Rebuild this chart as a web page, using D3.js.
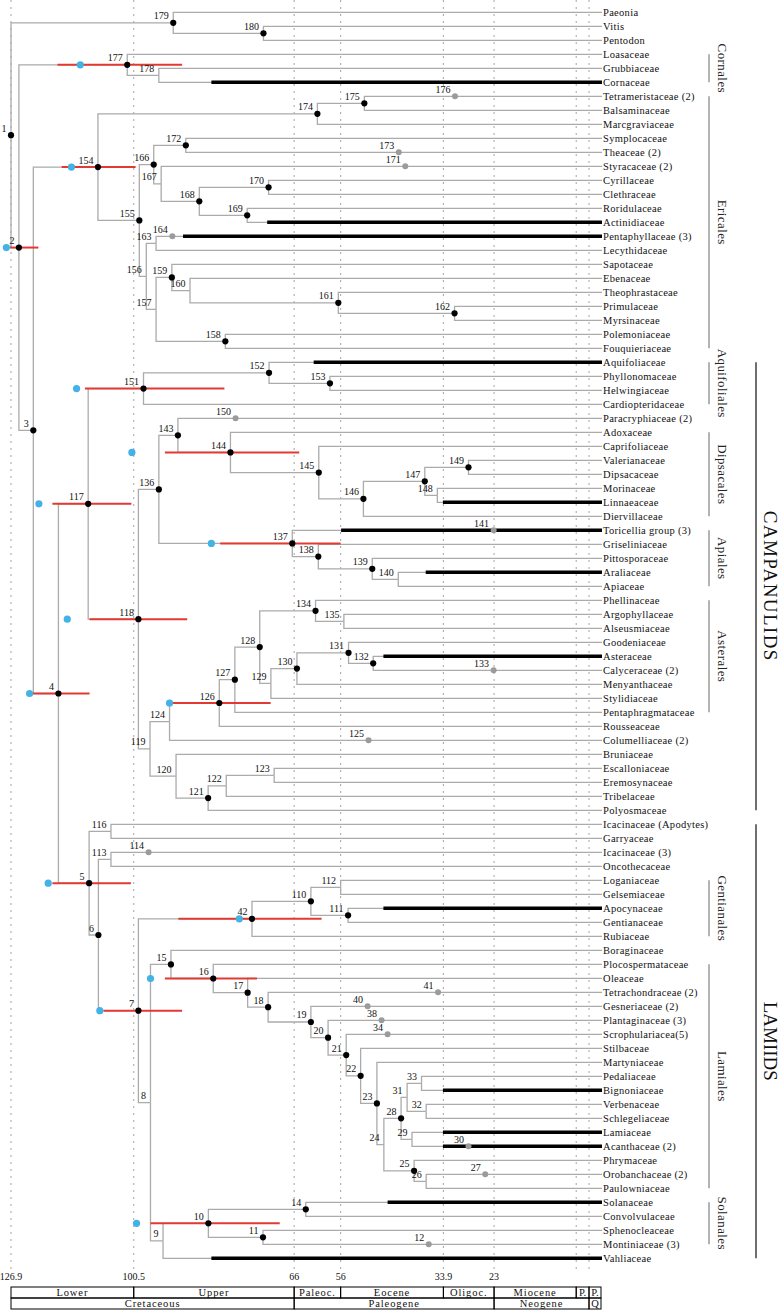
<!DOCTYPE html>
<html><head><meta charset="utf-8">
<script src="https://cdn.jsdelivr.net/npm/d3@7"></script>
<style>body{margin:0;background:#fff}</style>
</head><body>
<svg id="chart" width="782" height="1312"></svg>
<script>
// ---------------- DATA ----------------
const leaves = ["Paeonia","Vitis","Pentodon","Loasaceae","Grubbiaceae","Cornaceae","Tetrameristaceae (2)","Balsaminaceae","Marcgraviaceae","Symplocaceae","Theaceae (2)","Styracaceae (2)","Cyrillaceae","Clethraceae","Roridulaceae","Actinidiaceae","Pentaphyllaceae (3)","Lecythidaceae","Sapotaceae","Ebenaceae","Theophrastaceae","Primulaceae","Myrsinaceae","Polemoniaceae","Fouquieriaceae","Aquifoliaceae","Phyllonomaceae","Helwingiaceae","Cardiopteridaceae","Paracryphiaceae (2)","Adoxaceae","Caprifoliaceae","Valerianaceae","Dipsacaceae","Morinaceae","Linnaeaceae","Diervillaceae","Toricellia group (3)","Griseliniaceae","Pittosporaceae","Araliaceae","Apiaceae","Phellinaceae","Argophyllaceae","Alseusmiaceae","Goodeniaceae","Asteraceae","Calyceraceae (2)","Menyanthaceae","Stylidiaceae","Pentaphragmataceae","Rousseaceae","Columelliaceae (2)","Bruniaceae","Escalloniaceae","Eremosynaceae","Tribelaceae","Polyosmaceae","Icacinaceae (Apodytes)","Garryaceae","Icacinaceae (3)","Oncothecaceae","Loganiaceae","Gelsemiaceae","Apocynaceae","Gentianaceae","Rubiaceae","Boraginaceae","Plocospermataceae","Oleaceae","Tetrachondraceae (2)","Gesneriaceae (2)","Plantaginaceae (3)","Scrophulariacea(5)","Stilbaceae","Martyniaceae","Pedaliaceae","Bignoniaceae","Verbenaceae","Schlegeliaceae","Lamiaceae","Acanthaceae (2)","Phrymaceae","Orobanchaceae (2)","Paulowniaceae","Solanaceae","Convolvulaceae","Sphenocleaceae","Montiniaceae (3)","Vahliaceae"];

// internal nodes: [id, age in Ma, child 1, child 2] (children: node id or leaf name)
const innerNodes = [
 [1,126.9,179,2],[179,92.0,"Paeonia",180],[180,72.6,"Vitis","Pentodon"],
 [2,125.2,177,3],[177,101.9,"Loasaceae",178],[178,95.1,"Grubbiaceae","Cornaceae"],
 [3,122.1,154,4],[154,108.2,174,155],[174,61.0,175,"Marcgraviaceae"],
 [175,50.9,"Tetrameristaceae (2)","Balsaminaceae"],[155,99.3,166,156],[166,96.2,172,167],
 [172,89.3,"Symplocaceae","Theaceae (2)"],[167,94.6,"Styracaceae (2)",168],[168,86.4,170,169],
 [170,71.5,"Cyrillaceae","Clethraceae"],[169,76.1,"Roridulaceae","Actinidiaceae"],
 [156,97.8,163,157],[163,95.7,"Pentaphyllaceae (3)","Lecythidaceae"],[157,95.7,159,158],
 [159,92.3,"Sapotaceae",160],[160,88.4,"Ebenaceae",161],[161,56.5,"Theophrastaceae",162],
 [162,31.5,"Primulaceae","Myrsinaceae"],[158,80.8,"Polemoniaceae","Fouquieriaceae"],
 [4,116.7,117,5],[117,110.3,151,118],[151,98.4,152,"Cardiopteridaceae"],
 [152,71.4,"Aquifoliaceae",153],[153,58.3,"Phyllonomaceae","Helwingiaceae"],
 [118,99.5,136,119],[136,95.1,143,137],[143,91.0,"Paracryphiaceae (2)",144],
 [144,79.7,"Adoxaceae",145],[145,60.7,"Caprifoliaceae",146],[146,51.1,147,"Diervillaceae"],
 [147,37.9,149,148],[149,28.5,"Valerianaceae","Dipsacaceae"],[148,35.2,"Morinaceae","Linnaeaceae"],
 [137,66.4,"Toricellia group (3)",138],[138,60.8,"Griseliniaceae",139],[139,49.2,"Pittosporaceae",140],
 [140,43.6,"Araliaceae","Apiaceae"],[119,97.0,124,120],[124,92.8,126,"Columelliaceae (2)"],
 [126,82.1,127,"Rousseaceae"],[127,78.75,128,"Pentaphragmataceae"],[128,73.4,134,129],
 [134,61.4,"Phellinaceae",135],[135,55.3,"Argophyllaceae","Alseusmiaceae"],[129,71.0,130,"Stylidiaceae"],
 [130,65.4,131,"Menyanthaceae"],[131,54.3,"Goodeniaceae",132],[132,49.0,"Asteraceae","Calyceraceae (2)"],
 [120,91.4,"Bruniaceae",121],[121,84.5,122,"Polyosmaceae"],[122,80.6,123,"Tribelaceae"],
 [123,70.3,"Escalloniaceae","Eremosynaceae"],[5,110.1,116,6],[116,105.4,"Icacinaceae (Apodytes)","Garryaceae"],
 [6,108.1,113,7],[113,105.4,"Icacinaceae (3)","Oncothecaceae"],[7,99.5,42,8],[42,75.07,110,"Rubiaceae"],
 [110,62.4,112,111],[112,56.0,"Loganiaceae","Gelsemiaceae"],[111,54.4,"Apocynaceae","Gentianaceae"],
 [8,96.9,15,9],[15,92.5,"Boraginaceae",16],[16,83.4,"Plocospermataceae",17],[17,76.0,"Oleaceae",18],
 [18,71.6,"Tetrachondraceae (2)",19],[19,62.4,"Gesneriaceae (2)",20],[20,58.7,"Plantaginaceae (3)",21],
 [21,54.8,"Scrophulariacea(5)",22],[22,51.7,"Stilbaceae",23],[23,48.2,"Martyniaceae",24],[24,46.7,28,25],
 [28,43.0,31,29],[31,41.7,33,32],[33,38.6,"Pedaliaceae","Bignoniaceae"],[32,37.6,"Verbenaceae","Schlegeliaceae"],
 [29,40.65,"Lamiaceae","Acanthaceae (2)"],[25,40.2,"Phrymaceae",26],[26,37.6,"Orobanchaceae (2)","Paulowniaceae"],
 [9,94.2,10,"Vahliaceae"],[10,84.45,14,11],[14,63.5,"Solanaceae","Convolvulaceae"],
 [11,72.7,"Sphenocleaceae","Montiniaceae (3)"]
];

// nodes drawn without a black dot
const plainNodes = [178,167,156,163,157,160,140,148,135,129,124,119,120,122,123,116,113,8,9,26,31,32,33,29,24,112];

// calibrated nodes: [id, calibration age (blue), interval old, interval young (red)]
const calibrations = [
 [2,127.9,127.1,121.0],[177,112.0,116.9,90.1],[154,113.9,116.0,100.1],[4,122.9,122.3,110.0],
 [117,120.9,118.0,101.0],[151,112.8,111.0,81.0],[118,114.8,110.0,89.0],[144,100.9,93.8,64.9],
 [137,83.8,81.9,56.0],[126,92.8,92.2,71.05],[5,118.9,118.0,101.1],[7,107.8,107.0,90.1],
 [42,77.8,90.9,60.1],[16,96.9,93.8,74.0],[10,99.9,96.9,69.1]
];

// stem nodes of collapsed families (grey dots): [leaf, id, age]
const stemNodes = [
 ["Tetrameristaceae (2)",176,31.4],["Theaceae (2)",173,43.5],["Styracaceae (2)",171,42.1],
 ["Pentaphyllaceae (3)",164,92.2],["Paracryphiaceae (2)",150,78.6],["Toricellia group (3)",141,23.1],
 ["Calyceraceae (2)",133,23.1],["Columelliaceae (2)",125,50.0],["Icacinaceae (3)",114,97.3],
 ["Tetrachondraceae (2)",41,35.05],["Gesneriaceae (2)",40,50.2],["Plantaginaceae (3)",38,47.2],
 ["Scrophulariacea(5)",34,45.9],["Acanthaceae (2)",30,28.5],["Orobanchaceae (2)",27,24.9],
 ["Montiniaceae (3)",12,37.05]
];

// fossil record ranges (thick black): [leaf, oldest age]
const fossilRanges = [
 ["Cornaceae",83.8],["Actinidiaceae",71.8],["Pentaphyllaceae (3)",89.9],["Aquifoliaceae",61.8],
 ["Linnaeaceae",34.0],["Toricellia group (3)",55.9],["Araliaceae",37.7],["Asteraceae",46.8],
 ["Apocynaceae",46.8],["Bignoniaceae",34.0],["Lamiaceae",34.0],["Acanthaceae (2)",34.0],
 ["Solanaceae",45.9],["Vahliaceae",83.8]
];

const orders = [
 ["Cornales","Loasaceae","Cornaceae"],["Ericales","Tetrameristaceae (2)","Fouquieriaceae"],
 ["Aquifoliales","Aquifoliaceae","Cardiopteridaceae"],["Dipsacales","Adoxaceae","Diervillaceae"],
 ["Apiales","Toricellia group (3)","Apiaceae"],["Asterales","Phellinaceae","Pentaphragmataceae"],
 ["Gentianales","Loganiaceae","Rubiaceae"],["Lamiales","Plocospermataceae","Paulowniaceae"],
 ["Solanales","Solanaceae","Montiniaceae (3)"]
];
const groups = [["CAMPANULIDS","Aquifoliaceae","Polyosmaceae"],["LAMIIDS","Icacinaceae (Apodytes)","Vahliaceae"]];

const tickAges = [126.9,100.5,66,56,33.9,23];
const gridAges = [126.9,100.5,66,56,33.9,23,5.333,2.58];
const epochs = [["Lower",126.9,100.5],["Upper",100.5,66],["Paleoc.",66,56],["Eocene",56,33.9],["Oligoc.",33.9,23],["Miocene",23,5.333],["P.",5.333,2.58],["P.",2.58,0]];
const periods = [["Cretaceous",126.9,66],["Paleogene",66,23],["Neogene",23,2.58],["Q",2.58,0]];

// ---------------- DRAW ----------------
const FONT = "'Liberation Serif','Times New Roman',serif";
const svg = d3.select("#chart").style("font-family", FONT);
const x = d3.scaleLinear().domain([126.9, 0]).range([11, 601]);
const y = d3.scalePoint().domain(leaves).range([12.3, 1258.3]);

const nodeMap = new Map(innerNodes.map(d => [d[0], d]));
function build(ref) {
  if (typeof ref === "number") {
    const d = nodeMap.get(ref);
    return {id: ref, age: d[1], children: [build(d[2]), build(d[3])]};
  }
  return {name: ref, age: 0};
}
const root = d3.hierarchy(build(1));
root.eachAfter(n => {
  n.px = x(n.data.age);
  n.py = n.children ? d3.mean(n.children, c => c.py) : y(n.data.name);
});
const byId = new Map();
root.each(n => { if (n.data.id !== undefined) byId.set(n.data.id, n); });

// grid
svg.append("g").selectAll("line").data(gridAges).join("line")
  .attr("x1", d => x(d)).attr("x2", d => x(d)).attr("y1", 0).attr("y2", 1270)
  .attr("stroke", "#9a9a9a").attr("stroke-width", 0.9).attr("stroke-dasharray", "2,5");

// branches
const links = root.links();
svg.append("g").selectAll("path").data(links).join("path")
  .attr("d", l => {
    const xe = l.target.children ? l.target.px : x(0) + 1;
    return `M${l.source.px},${l.source.py}V${l.target.py}H${xe}`;
  })
  .attr("fill", "none").attr("stroke", "#ababab").attr("stroke-width", 1.3);

// fossil ranges
svg.append("g").selectAll("line").data(fossilRanges).join("line")
  .attr("x1", d => x(d[1])).attr("x2", x(0) + 1)
  .attr("y1", d => y(d[0])).attr("y2", d => y(d[0]))
  .attr("stroke", "#000").attr("stroke-width", 3.6);

// red intervals
svg.append("g").selectAll("line").data(calibrations).join("line")
  .attr("x1", d => x(d[2])).attr("x2", d => x(d[3]))
  .attr("y1", d => byId.get(d[0]).py).attr("y2", d => byId.get(d[0]).py)
  .attr("stroke", "#e23a33").attr("stroke-width", 2);

// grey stem dots
svg.append("g").selectAll("circle").data(stemNodes).join("circle")
  .attr("cx", d => x(d[2])).attr("cy", d => y(d[0])).attr("r", 3)
  .attr("fill", "#9b9b9b");

// black node dots
const dotted = innerNodes.map(d => d[0]).filter(id => !plainNodes.includes(id));
svg.append("g").selectAll("circle").data(dotted).join("circle")
  .attr("cx", id => byId.get(id).px).attr("cy", id => byId.get(id).py).attr("r", 3.1)
  .attr("fill", "#000");

// blue calibration dots
svg.append("g").selectAll("circle").data(calibrations).join("circle")
  .attr("cx", d => x(d[1])).attr("cy", d => byId.get(d[0]).py).attr("r", 3.6)
  .attr("fill", "#43b2e6");

// node labels
const labelData = innerNodes.map(d => ({t: d[0], x: byId.get(d[0]).px, y: byId.get(d[0]).py}))
  .concat(stemNodes.map(d => ({t: d[1], x: x(d[2]), y: y(d[0])})));
svg.append("g").selectAll("text").data(labelData).join("text")
  .attr("x", d => d.x - 4.5).attr("y", d => d.y - 3.5)
  .attr("text-anchor", "end").attr("font-size", 10).attr("fill", "#111")
  .text(d => d.t);

// leaf labels
svg.append("g").selectAll("text").data(leaves).join("text")
  .attr("x", x(0) + 2).attr("y", d => y(d)).attr("dy", "0.35em")
  .attr("font-size", 10.5).attr("letter-spacing", 0.3).attr("fill", "#111")
  .text(d => d);

// order brackets
const og = svg.append("g");
og.selectAll("line").data(orders).join("line")
  .attr("x1", 709).attr("x2", 709).attr("y1", d => y(d[1])).attr("y2", d => y(d[2]))
  .attr("stroke", "#8a8a8a").attr("stroke-width", 1.3);
og.selectAll("text").data(orders).join("text")
  .attr("transform", d => `translate(723,${(y(d[1]) + y(d[2])) / 2}) rotate(90)`)
  .attr("text-anchor", "middle").attr("dy", "0.35em")
  .attr("font-size", 13).attr("letter-spacing", 0.4).attr("fill", "#222")
  .text(d => d[0]);

// group brackets
const gg = svg.append("g");
gg.selectAll("line").data(groups).join("line")
  .attr("x1", 756).attr("x2", 756).attr("y1", d => y(d[1])).attr("y2", d => y(d[2]))
  .attr("stroke", "#222").attr("stroke-width", 1.3);
gg.selectAll("text").data(groups).join("text")
  .attr("transform", d => `translate(770,${(y(d[1]) + y(d[2])) / 2}) rotate(90)`)
  .attr("text-anchor", "middle").attr("dy", "0.33em")
  .attr("font-size", 19).attr("letter-spacing", d => d[0] === "CAMPANULIDS" ? 1.4 : 0)
  .attr("fill", "#111")
  .text(d => d[0]);

// time axis
const ax = svg.append("g");
ax.selectAll("text.tick").data(tickAges).join("text").attr("class", "tick")
  .attr("x", d => x(d)).attr("y", 1280).attr("text-anchor", "middle")
  .attr("font-size", 10).attr("fill", "#111").text(d => d);

const top1 = 1287, mid = 1298, bot = 1309;
function cells(data, y0, y1) {
  const g = ax.append("g");
  g.selectAll("rect").data(data).join("rect")
    .attr("x", d => x(d[1])).attr("width", d => x(d[2]) - x(d[1]))
    .attr("y", y0).attr("height", y1 - y0)
    .attr("fill", "none").attr("stroke", "#000").attr("stroke-width", 1);
  g.selectAll("text").data(data).join("text")
    .attr("x", d => (x(d[1]) + x(d[2])) / 2).attr("y", (y0 + y1) / 2).attr("dy", "0.36em")
    .attr("text-anchor", "middle").attr("font-size", 10.5)
    .attr("letter-spacing", d => d[0].length > 2 ? 0.9 : 0).attr("fill", "#111")
    .text(d => d[0]);
}
cells(epochs, top1, mid);
cells(periods, mid, bot);
</script>
</body></html>
